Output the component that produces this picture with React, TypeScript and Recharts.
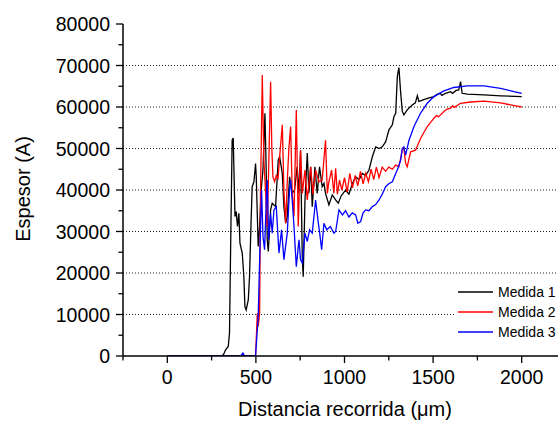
import React from 'react';
import { LineChart, Line, XAxis, YAxis, ReferenceLine, Legend } from 'recharts';

// distance (um), thickness (A) pairs
const medida1: [number, number][] = [
  [0, 0], [310, 0], [319, 500], [329, 1500], [344, 2300], [351, 5500], [359, 31200], [366, 52000],
  [372, 52500], [382, 33600], [389, 34800], [396, 31200], [404, 34400], [410, 27200], [423, 24800],
  [432, 19100], [438, 11900], [445, 11100], [457, 13500], [464, 19100], [472, 31200], [479, 40800],
  [489, 42000], [498, 46400], [502, 43200], [513, 26400], [521, 31200], [530, 40000], [540, 45000],
  [551, 58500], [558, 45000], [564, 28000], [570, 25200], [583, 35200], [592, 36800], [611, 36000],
  [626, 47200], [634, 48000], [649, 44000], [658, 36000], [668, 32000], [677, 33600], [690, 43200],
  [705, 39200], [718, 40000], [733, 45600], [743, 39200], [752, 49600], [762, 23200], [767, 19100],
  [777, 37600], [790, 48900], [799, 39200], [809, 45600], [818, 36000], [833, 45600], [846, 39200],
  [859, 45600], [874, 40800], [884, 41600], [893, 39200], [912, 36400], [931, 38800], [950, 37600],
  [965, 36800], [980, 38500], [1006, 40000], [1025, 39000], [1044, 41500], [1063, 43200],
  [1082, 42500], [1101, 44000], [1120, 43500], [1138, 44800], [1157, 48000], [1176, 50400],
  [1195, 50000], [1213, 50400], [1232, 51600], [1251, 54500], [1270, 55700], [1279, 57700],
  [1289, 58500], [1298, 67300], [1307, 69500], [1316, 64000], [1326, 59000], [1335, 58100],
  [1354, 59300], [1382, 60500], [1400, 61000], [1411, 62700], [1420, 61300], [1429, 61500],
  [1467, 62100], [1505, 62500], [1520, 63000], [1539, 63300], [1550, 62800], [1570, 63300],
  [1599, 63700], [1610, 63300], [1630, 64000], [1645, 64100], [1655, 66100], [1664, 63300],
  [1693, 63100], [1787, 62900], [1881, 62700], [2000, 62500],
];

const medida2: [number, number][] = [
  [0, 0], [498, 0], [508, 10300], [513, 7100], [521, 10300], [526, 39200], [536, 67700], [545, 47200],
  [555, 39200], [564, 31200], [572, 45000], [583, 66100], [590, 50000], [596, 43200], [605, 42000],
  [615, 43500], [625, 42800], [634, 48000], [649, 55700], [658, 40000], [668, 32000], [677, 42000],
  [686, 50000], [696, 55300], [705, 39200], [715, 33600], [728, 59300], [739, 31200], [752, 49600],
  [762, 39200], [777, 44800], [790, 37600], [809, 45600], [822, 39000], [837, 44800], [856, 42000],
  [874, 42400], [893, 52000], [903, 39200], [912, 42000], [927, 44800], [940, 39200], [950, 45200],
  [960, 39000], [972, 42400], [985, 40000], [1000, 43000], [1015, 39500], [1030, 44000],
  [1045, 40500], [1060, 43500], [1075, 41000], [1090, 44500], [1105, 41500], [1120, 44000],
  [1135, 42000], [1150, 45000], [1165, 42500], [1180, 45500], [1195, 43000], [1213, 45500],
  [1232, 44500], [1250, 45500], [1270, 45000], [1289, 46000], [1307, 45600], [1326, 49600],
  [1335, 50100], [1345, 46400], [1354, 45600], [1373, 49200], [1401, 49600], [1429, 52400],
  [1467, 55300], [1505, 57300], [1520, 58000], [1530, 57600], [1561, 58900], [1580, 59500],
  [1599, 59700], [1610, 60300], [1620, 59900], [1655, 60900], [1712, 61200], [1787, 61400],
  [1881, 61000], [1975, 60200], [2000, 60000],
];

const medida3: [number, number][] = [
  [0, 0], [415, 0], [427, 700], [435, 0], [498, 0], [513, 9500], [521, 23000], [532, 40000],
  [540, 28800], [549, 25600], [560, 39200], [564, 42400], [572, 28000], [583, 34400], [592, 29600],
  [602, 35200], [615, 36000], [630, 24800], [645, 30400], [658, 23200], [677, 29600], [690, 40000],
  [696, 42400], [705, 37600], [715, 31200], [728, 21500], [743, 28000], [752, 23200], [762, 22400],
  [777, 29600], [790, 27600], [803, 30400], [818, 29600], [837, 37600], [850, 32800], [860, 29600],
  [871, 25600], [884, 32000], [900, 30400], [920, 31200], [940, 29600], [950, 30000], [969, 35200],
  [988, 34000], [1006, 35000], [1025, 33500], [1044, 34500], [1063, 34000], [1075, 32000],
  [1091, 32400], [1105, 34500], [1119, 35200], [1138, 35000], [1157, 36000], [1176, 36500],
  [1195, 37600], [1213, 39000], [1232, 40800], [1250, 41500], [1270, 42000], [1289, 44000],
  [1298, 44800], [1317, 47200], [1326, 50000], [1335, 50400], [1345, 48400], [1364, 52000],
  [1392, 55300], [1429, 58500], [1467, 60900], [1505, 62500], [1561, 63900], [1617, 64700],
  [1693, 65100], [1787, 65100], [1881, 64500], [1956, 63700], [2000, 63300],
];

const seriesNames = ['Medida 1', 'Medida 2', 'Medida 3'];
const seriesColors = ['#000000', '#ff0000', '#0000ff'];
const seriesData = [medida1, medida2, medida3];

const xTicks = [-250, 0, 250, 500, 750, 1000, 1250, 1500, 1750, 2000, 2250];
const yTicks = [0, 5000, 10000, 15000, 20000, 25000, 30000, 35000, 40000, 45000, 50000,
  55000, 60000, 65000, 70000, 75000, 80000];
const gridLines = [10000, 20000, 30000, 40000, 50000, 60000, 70000];

const font = '"Liberation Sans", Arial, Helvetica, sans-serif';

const XTick = (props: any) => {
  const { x, y, payload } = props;
  const major = payload.value % 500 === 0;
  return (
    <g>
      <line x1={x} y1={y} x2={x} y2={y + (major ? 7 : 4.5)} stroke="#000" strokeWidth={1.3} />
      {major && (
        <text x={x} y={y + 28} textAnchor="middle" fontSize={19.5} fontFamily={font} fill="#000">
          {payload.value}
        </text>
      )}
    </g>
  );
};

const YTick = (props: any) => {
  const { x, y, payload } = props;
  const major = payload.value % 10000 === 0;
  return (
    <g>
      <line x1={x} y1={y} x2={x - (major ? 7 : 4.5)} y2={y} stroke="#000" strokeWidth={1.3} />
      {major && (
        <text x={x - 13} y={y + 7} textAnchor="end" fontSize={19.5} fontFamily={font} fill="#000">
          {payload.value}
        </text>
      )}
    </g>
  );
};

// white box behind the legend hides the 10000 grid line, as in the original
const renderLegend = () => (
  <div style={{ fontFamily: font, background: '#fff', padding: '2px 0' }}>
    {seriesNames.map((name, i) => (
      <div key={name} style={{ display: 'flex', alignItems: 'center', height: 20 }}>
        <svg width={37} height={20}>
          <line x1={2} y1={10} x2={37} y2={10} stroke={seriesColors[i]} strokeWidth={1.5} />
        </svg>
        <span style={{ marginLeft: 5, fontSize: 14, whiteSpace: 'nowrap', color: '#000' }}>{name}</span>
      </div>
    ))}
  </div>
);

export default function App() {
  return (
    <div style={{ position: 'absolute', left: 0, top: 0, width: 558, height: 421, overflow: 'hidden', background: '#fff' }}>
      <LineChart width={620} height={421} margin={{ top: 24, right: 54, left: 43, bottom: 35 }}>
        <XAxis
          type="number"
          dataKey="x"
          domain={[-250, 2250]}
          ticks={xTicks}
          interval={0}
          tickSize={0}
          tickMargin={0}
          height={30}
          allowDataOverflow
          axisLine={{ stroke: '#000', strokeWidth: 1.5 }}
          tick={<XTick />}
          label={() => (
            <text x={345} y={416} textAnchor="middle" fontSize={20} fontFamily={font} fill="#000">
              Distancia recorrida (μm)
            </text>
          )}
        />
        <YAxis
          type="number"
          domain={[0, 80000]}
          ticks={yTicks}
          interval={0}
          tickSize={0}
          tickMargin={0}
          width={80}
          allowDataOverflow
          axisLine={{ stroke: '#000', strokeWidth: 1.5 }}
          tick={<YTick />}
          label={() => (
            <text x={30} y={189} transform="rotate(-90 30 189)" textAnchor="middle" fontSize={20} fontFamily={font} fill="#000">
              Espesor (A)
            </text>
          )}
        />
        {gridLines.map((v) => (
          <ReferenceLine key={v} y={v} stroke="#222" strokeWidth={1} strokeDasharray="1 2" />
        ))}
        {seriesData.map((pts, i) => (
          <Line
            key={seriesNames[i]}
            name={seriesNames[i]}
            data={pts.map(([x, y]) => ({ x, y }))}
            dataKey="y"
            type="linear"
            stroke={seriesColors[i]}
            strokeWidth={1.3}
            dot={false}
            activeDot={false}
            isAnimationActive={false}
          />
        ))}
        <Legend
          layout="vertical"
          align="center"
          verticalAlign="middle"
          wrapperStyle={{ left: 456, top: 280, width: 102 }}
          content={renderLegend}
        />
      </LineChart>
    </div>
  );
}
